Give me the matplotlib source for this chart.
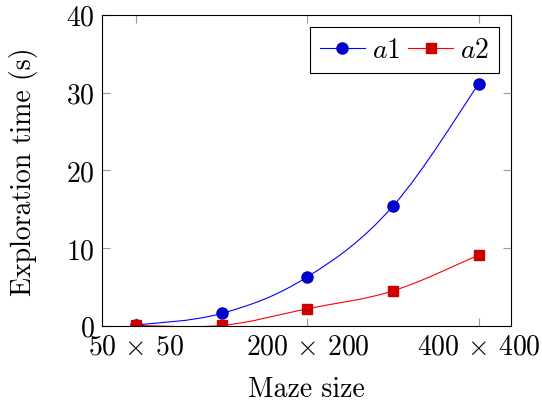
import matplotlib
matplotlib.use("Agg")
import matplotlib.pyplot as plt
from matplotlib.path import Path
from matplotlib.patches import PathPatch
from matplotlib.lines import Line2D

# data
sizes = [0, 1, 2, 3, 4]
tick_pos = [0, 2, 4]
tick_labels = [r"$50\,\times\,50$", r"$200\,\times\,200$", r"$400\,\times\,400$"]
a1 = [0.1, 1.6, 6.3, 15.4, 31.1]
a2 = [0.05, 0.05, 2.2, 4.5, 9.1]

plt.rcParams["font.family"] = "cmr10"
plt.rcParams["mathtext.fontset"] = "cm"
plt.rcParams["axes.formatter.use_mathtext"] = True
plt.rcParams["font.size"] = 20


def smooth_path(x, y, tension=0.18):
    # cubic bezier through the points (like pgfplots "smooth")
    verts = [(x[0], y[0])]
    codes = [Path.MOVETO]
    n = len(x)
    for i in range(n - 1):
        x0, y0 = (x[i - 1], y[i - 1]) if i > 0 else (x[i], y[i])
        x3, y3 = (x[i + 2], y[i + 2]) if i + 2 < n else (x[i + 1], y[i + 1])
        c1 = (x[i] + (x[i + 1] - x0) * tension, y[i] + (y[i + 1] - y0) * tension)
        c2 = (x[i + 1] - (x3 - x[i]) * tension, y[i + 1] - (y3 - y[i]) * tension)
        verts += [c1, c2, (x[i + 1], y[i + 1])]
        codes += [Path.CURVE4] * 3
    return Path(verts, codes)


fig = plt.figure(figsize=(5.42, 4.06), dpi=100)
ax = fig.add_axes([0.188, 0.195, 0.755, 0.766])

ax.add_patch(PathPatch(smooth_path(sizes, a1), fill=False, edgecolor="#0000ff", lw=0.8))
ax.add_patch(PathPatch(smooth_path(sizes, a2), fill=False, edgecolor="#ff0000", lw=0.8))
ax.plot(sizes, a1, "o", color="#0000cc", ms=8, ls="none")
ax.plot(sizes, a2, "s", color="#cc0000", ms=7.5, ls="none")

ax.set_xlim(-0.4, 4.38)
ax.set_ylim(0, 40)
ax.set_xticks(tick_pos)
ax.set_xticklabels(tick_labels)
ax.set_yticks([0, 10, 20, 30, 40])
ax.tick_params(direction="in", length=6, width=0.8, color="#999999",
               top=True, right=True, pad=5)
for s in ax.spines.values():
    s.set_linewidth(0.8)

ax.set_xlabel("Maze size", labelpad=12)
ax.set_ylabel("Exploration time (s)", labelpad=20)

handles = [
    Line2D([], [], color="#0000ff", lw=0.8, marker="o", mfc="#0000cc", mec="#0000cc", ms=8),
    Line2D([], [], color="#ff0000", lw=0.8, marker="s", mfc="#cc0000", mec="#cc0000", ms=7.5),
]
ax.legend(handles, [r"$a1$", r"$a2$"], loc="upper right", ncol=2, fancybox=False,
          framealpha=1, edgecolor="black", handlelength=1.6, handletextpad=0.25,
          columnspacing=0.3, borderpad=0.35, borderaxespad=0.45, fontsize=20)
ax.get_legend().get_frame().set_linewidth(0.8)

fig.savefig("out.png", dpi=100)
